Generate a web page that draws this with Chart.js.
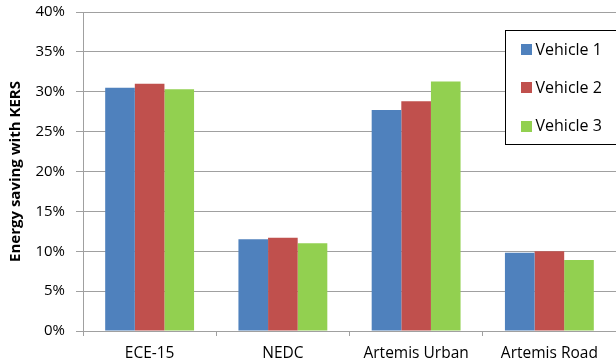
<!DOCTYPE html>
<html>
<head>
<meta charset="utf-8">
<script src="https://cdn.jsdelivr.net/npm/chart.js@4/dist/chart.umd.min.js"></script>
<style>
  html, body { margin: 0; padding: 0; background: #fff; }
  #wrap { width: 616px; height: 361px; position: relative; }
</style>
</head>
<body>
<div id="wrap"><canvas id="c"></canvas></div>
<script>
// Drive cycles on the x axis
const cycles = ['ECE-15', 'NEDC', 'Artemis Urban', 'Artemis Road'];
// Energy saving (%) per vehicle
const vehicle1 = [30.5, 11.5, 27.7, 9.8];
const vehicle2 = [31.0, 11.7, 28.8, 10.0];
const vehicle3 = [30.3, 11.0, 31.3, 8.9];
const seriesNames = ['Vehicle 1', 'Vehicle 2', 'Vehicle 3'];
const seriesColors = ['#4F81BD', '#C0504D', '#92D050'];
const yTicks = [0, 5, 10, 15, 20, 25, 30, 35, 40];

const FONT = "'Open Sans', 'Liberation Sans', sans-serif";
const GRID = '#a0a0a0';

// Boxed legend drawn inside the plot area, upper right
const boxLegend = {
  id: 'boxLegend',
  afterDraw(chart) {
    const ctx = chart.ctx;
    const x0 = 505.5, y0 = 30.5, x1 = 630, y1 = 144.5;
    ctx.save();
    ctx.fillStyle = '#fff';
    ctx.fillRect(x0, y0, x1 - x0, y1 - y0);
    ctx.strokeStyle = '#000';
    ctx.lineWidth = 1;
    ctx.strokeRect(x0, y0, x1 - x0, y1 - y0);
    ctx.font = '16px ' + FONT;
    ctx.textBaseline = 'middle';
    ctx.textAlign = 'left';
    chart.data.datasets.forEach((ds, i) => {
      const cy = 49.5 + i * 38.3;
      ctx.fillStyle = ds.backgroundColor;
      ctx.fillRect(521, Math.round(cy - 5.5), 11, 11);
      ctx.fillStyle = '#000';
      ctx.fillText(ds.label, 535.5, cy + 0.5);
    });
    ctx.restore();
  }
};

const datasets = [vehicle1, vehicle2, vehicle3].map((vals, i) => ({
  label: seriesNames[i],
  data: vals,
  backgroundColor: seriesColors[i],
  borderWidth: 0,
  categoryPercentage: 0.667,
  barPercentage: 1.0
}));

new Chart(document.getElementById('c'), {
  type: 'bar',
  data: { labels: cycles, datasets },
  plugins: [boxLegend],
  options: {
    responsive: true,
    maintainAspectRatio: false,
    animation: false,
    devicePixelRatio: 1,
    layout: { padding: { top: 12, right: 0, left: 0, bottom: 0 } },
    plugins: {
      legend: { display: false },
      tooltip: { enabled: false }
    },
    scales: {
      x: {
        grid: {
          offset: true,
          drawOnChartArea: false,
          drawTicks: true,
          tickLength: 5,
          color: GRID
        },
        border: { color: GRID },
        ticks: {
          color: '#000',
          font: { family: FONT, size: 15.5 },
          padding: 8,
          maxRotation: 0
        },
        afterFit(scale) {
          scale.height = 30;
          scale.paddingLeft = 0;
          scale.paddingRight = 0;
        }
      },
      y: {
        min: 0,
        max: 40,
        afterBuildTicks(scale) {
          scale.ticks = yTicks.map(v => ({ value: v }));
        },
        grid: {
          color: GRID,
          tickLength: 7,
          drawTicks: true
        },
        border: { color: GRID },
        ticks: {
          color: '#000',
          font: { family: FONT, size: 15 },
          padding: 11,
          callback: v => v + '%'
        },
        title: {
          display: true,
          text: 'Energy saving with KERS',
          color: '#000',
          font: { family: FONT, size: 15, weight: 'bold' },
          padding: { top: 7, bottom: 0 }
        },
        afterFit(scale) {
          scale.width = 83;
          scale.paddingTop = 0;
          scale.paddingBottom = 0;
        }
      }
    }
  }
});
</script>
</body>
</html>
